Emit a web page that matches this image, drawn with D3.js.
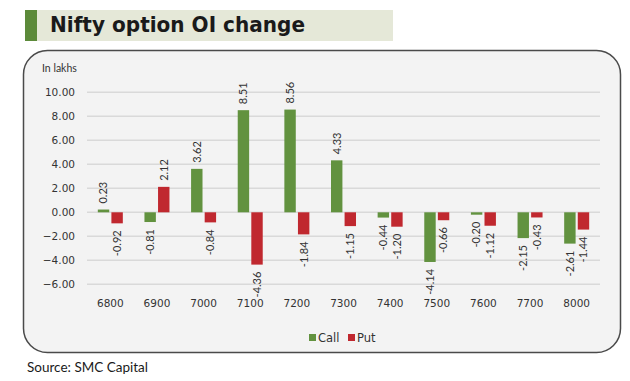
<!DOCTYPE html>
<html><head><meta charset="utf-8">
<script src="https://cdn.jsdelivr.net/npm/d3@7"></script>
<style>body{margin:0;background:#fff}svg{display:block}</style>
</head><body>
<script>
const categories = ["6800","6900","7000","7100","7200","7300","7400","7500","7600","7700","8000"];
const callValues = [0.23,-0.81,3.62,8.51,8.56,4.33,-0.44,-4.14,-0.20,-2.15,-2.61];
const putValues  = [-0.92,2.12,-0.84,-4.36,-1.84,-1.15,-1.20,-0.66,-1.12,-0.43,-1.44];
const yTicks = [10,8,6,4,2,0,-2,-4,-6];
const seriesNames = ["Call","Put"];
const colors = {Call:"#62923f", Put:"#c0282f"};

const W=630,H=381;
const svg=d3.select("body").append("svg").attr("width",W).attr("height",H);

// title banner
svg.append("rect").attr("x",37).attr("y",10).attr("width",356).attr("height",31).attr("fill","#e5e8d8");
svg.append("rect").attr("x",25).attr("y",10).attr("width",12).attr("height",31).attr("fill","#5c8a3a");
svg.append("text").attr("x",50).attr("y",32).attr("font-family","DejaVu Sans").attr("font-weight","bold")
  .attr("font-size",20.5).attr("fill","#1a1a1a").attr("textLength",255).attr("lengthAdjust","spacingAndGlyphs")
  .text("Nifty option OI change");

// chart box
svg.append("rect").attr("x",23.5).attr("y",50.5).attr("width",597).attr("height",302).attr("rx",24)
  .attr("fill","#f3f3f3").attr("stroke","#4a4a4a").attr("stroke-width",1.5);

const y=d3.scaleLinear().domain([-6,10]).range([284.3,92.3]);
const x=d3.scaleBand().domain(categories).range([87,600]).padding(0);
const xs=d3.scaleBand().domain(seriesNames).range([-12.5,12.5]).paddingInner(0.16);

// gridlines
svg.append("g").selectAll("line").data(yTicks).join("line")
  .attr("x1",87).attr("x2",600).attr("y1",d=>y(d)).attr("y2",d=>y(d))
  .attr("stroke","#d9d9d9").attr("stroke-width",1.5);

// y axis labels
const yAxis=d3.axisLeft(y).tickValues(yTicks).tickFormat(d3.format(".2f")).tickSize(0).tickPadding(0);
const ga=svg.append("g").attr("transform","translate(75,0)").call(yAxis);
ga.select(".domain").remove();
ga.selectAll("text").attr("font-family","DejaVu Sans").attr("font-size",10.5).attr("fill","#333").attr("dy","0.35em");

// x axis labels
const xAxis=d3.axisBottom(x).tickSize(0).tickPadding(0);
const gx=svg.append("g").attr("transform","translate(0,303)").call(xAxis);
gx.select(".domain").remove();
gx.selectAll("text").attr("font-family","DejaVu Sans").attr("font-size",10.5).attr("fill","#333").attr("dy","0.35em");

svg.append("text").attr("x",42).attr("y",72).attr("font-family","Lato").attr("font-size",10.5).attr("fill","#333").text("In lakhs");

// bars
const rows=[];
categories.forEach((c,i)=>{rows.push({c,s:"Call",v:callValues[i]});rows.push({c,s:"Put",v:putValues[i]});});
const cx=d=>x(d.c)+x.bandwidth()/2+xs(d.s);
svg.append("g").selectAll("rect").data(rows).join("rect")
  .attr("x",cx).attr("width",xs.bandwidth())
  .attr("y",d=>Math.min(y(d.v),y(0))).attr("height",d=>Math.abs(y(d.v)-y(0)))
  .attr("fill",d=>colors[d.s]);

// labels
svg.append("g").selectAll("text").data(rows).join("text")
  .attr("transform",d=>{const tx=cx(d)+xs.bandwidth()/2; const ty=d.v>=0?y(d.v)-6:y(d.v)+7; return `translate(${tx},${ty}) rotate(-90)`;})
  .attr("text-anchor",d=>d.v>=0?"start":"end").attr("dy","0.35em")
  .attr("font-family","Lato").attr("font-size",11).attr("fill","#333")
  .text(d=>d.v.toFixed(2));

// legend
const lg=svg.append("g");
const legendItems=[{s:"Call",x:309},{s:"Put",x:348}];
lg.selectAll("rect").data(legendItems).join("rect").attr("x",d=>d.x).attr("y",334).attr("width",7).attr("height",7).attr("fill",d=>colors[d.s]);
lg.selectAll("text").data(legendItems).join("text").attr("x",d=>d.x+9).attr("y",342)
  .attr("font-family","DejaVu Sans").attr("font-size",11.5).attr("fill","#333").text(d=>d.s);

svg.append("text").attr("x",27).attr("y",372).attr("font-family","Lato").attr("font-size",13.5).attr("fill","#1a1a1a").text("Source: SMC Capital");
</script>
</body></html>
